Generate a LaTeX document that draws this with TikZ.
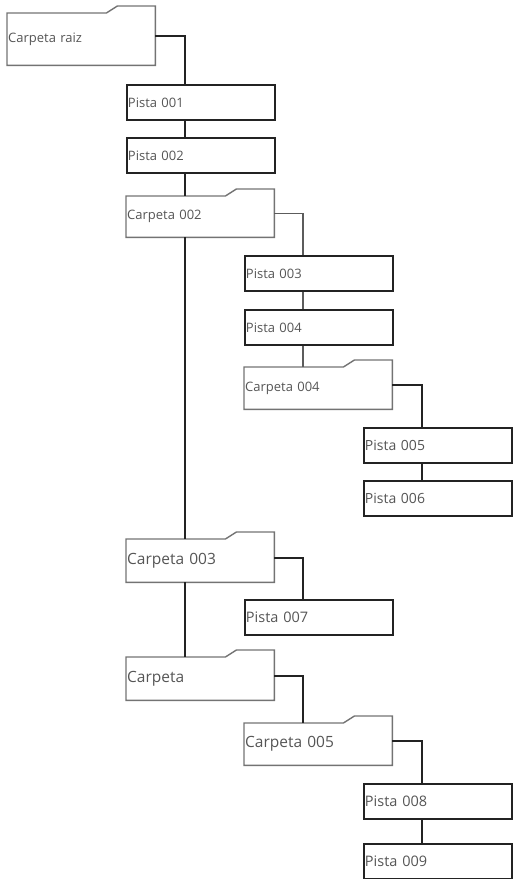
\documentclass[tikz,border=0pt]{standalone}
\usepackage{fontspec}
\setmainfont{Open Sans}
\usetikzlibrary{positioning,calc}
\definecolor{lineDark}{RGB}{35,35,35}
\definecolor{frameGray}{RGB}{115,115,115}
\definecolor{textGray}{RGB}{85,85,85}

% outline of a folder: body plus tab on the top right
\newcommand{\carpetaframe}[1]{%
  \draw[tabline] (#1.south west) -- (#1.north west)
    -- ([xshift=-49pt]#1.north east)
    -- ([xshift=-38pt,yshift=7pt]#1.north east)
    -- ([yshift=7pt]#1.north east) -- (#1.south east) -- cycle;}

\begin{document}
\begin{tikzpicture}[
  x=1pt, y=-1pt,
  fs/.style={font=\fontsize{#1}{#1}\selectfont},
  item/.style={rectangle, anchor=north west, minimum width=148pt,
               text width=146pt, inner sep=0.8pt, align=left,
               text=textGray, fs=13},
  pista/.style={item, draw=lineDark, line width=1.9pt,
                minimum height=35pt},
  carpeta/.style={item, minimum height=42pt},
  tabline/.style={frameGray, line width=1.4pt, line join=miter},
  trunk/.style={lineDark, line width=2.2pt},
  twig/.style={frameGray!80!black, line width=1.1pt}
]
  \useasboundingbox (0,0) rectangle (517,879);

  \node[carpeta, minimum height=52pt] (raiz) at (7,13) {Carpeta raiz};
  \node[pista]   (p1) at (126,84)  {Pista 001};
  \node[pista]   (p2) at (126,137) {Pista 002};
  \node[carpeta, minimum height=41pt] (c2) at (126,196) {Carpeta 002};
  \node[pista]   (p3) at (244,255) {Pista 003};
  \node[pista]   (p4) at (244,309) {Pista 004};
  \node[carpeta] (c4) at (244,367) {Carpeta 004};
  \node[pista, fs=14] (p5) at (363,427) {Pista 005};
  \node[pista, fs=14] (p6) at (363,480) {Pista 006};
  \node[carpeta, minimum height=43pt, fs=15.5] (c3) at (126,539) {Carpeta 003};
  \node[pista, fs=14.5] (p7) at (244,599) {Pista 007};
  \node[carpeta, minimum height=43pt, fs=15.5] (c) at (126,657) {Carpeta};
  \node[carpeta, fs=15.5] (c5) at (244,723) {Carpeta 005};
  \node[pista, fs=14.5] (p8) at (363,783) {Pista 008};
  \node[pista, fs=14.5] (p9) at (363,843) {Pista 009};

  \foreach \f in {raiz,c2,c4,c3,c,c5}{
    \carpetaframe{\f}
  }

  % folder -> first child
  \foreach \a/\b in {raiz/p1,c4/p5,c3/p7,c/c5,c5/p8}
    \draw[trunk] ([yshift=3pt]\a.east) -| ([xshift=59pt]\b.north west);
  \draw[twig] ([yshift=3pt]c2.east) -| ([xshift=59pt]p3.north west);

  % siblings
  \foreach \a/\b in {p1/p2,p2/c2,c2/c3,c3/c,p5/p6,p8/p9}
    \draw[trunk] ([xshift=59pt]\a.south west) -- ([xshift=59pt]\b.north west);
  \foreach \a/\b in {p3/p4,p4/c4}
    \draw[twig] ([xshift=59pt]\a.south west) -- ([xshift=59pt]\b.north west);
\end{tikzpicture}
\end{document}
